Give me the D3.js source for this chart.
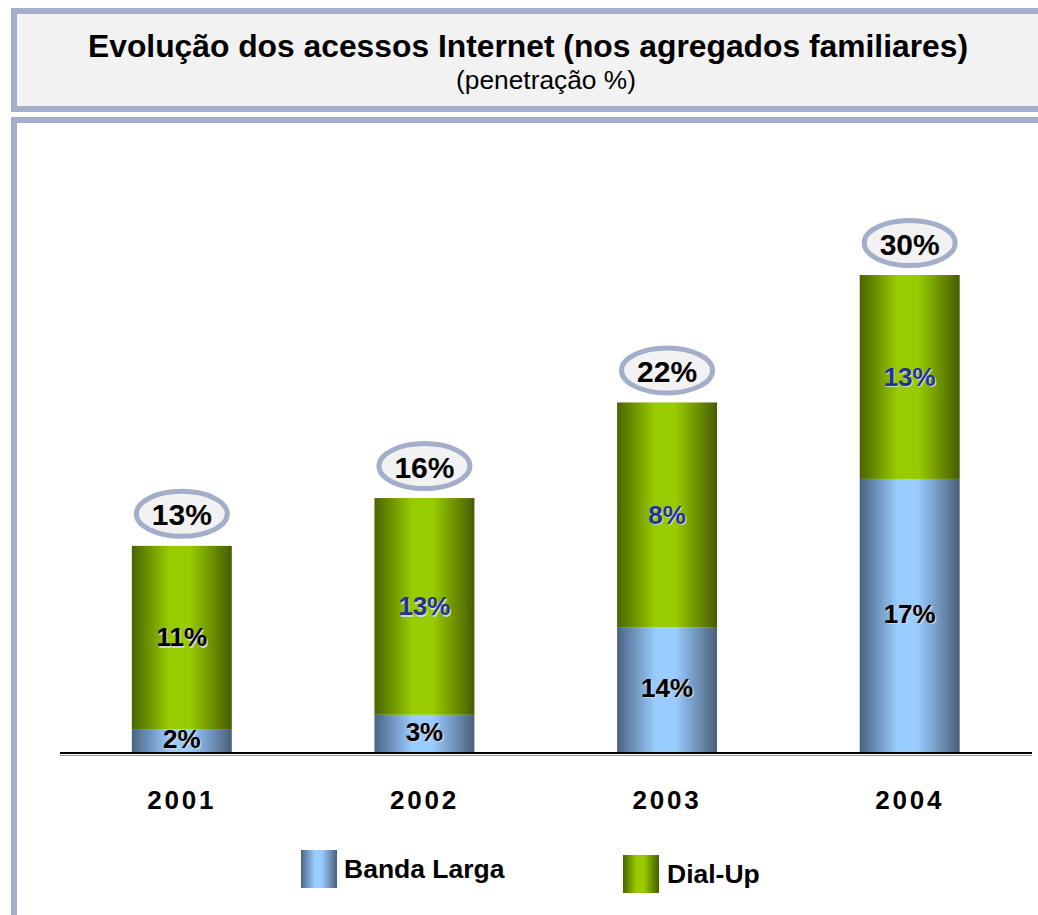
<!DOCTYPE html>
<html>
<head>
<meta charset="utf-8">
<script src="https://cdn.jsdelivr.net/npm/d3@7"></script>
<style>
  html, body { margin: 0; padding: 0; background: #ffffff; }
  svg { display: block; font-family: "Liberation Sans", Arial, sans-serif; }
</style>
</head>
<body>
<svg id="chart" width="1038" height="915"></svg>
<script>
// ---- data ----
const years = ["2001", "2002", "2003", "2004"];
const bandaLarga = [1.5, 2.4, 7.9, 17.2];
const dialUp = [11.5, 13.6, 14.1, 12.8];
const totalLabels = ["13%", "16%", "22%", "30%"];
const bandaLabels = ["2%", "3%", "14%", "17%"];
const dialLabels = ["11%", "13%", "8%", "13%"];
const seriesNames = ["Banda Larga", "Dial-Up"];
const titleText = "Evolução dos acessos Internet (nos agregados familiares)";
const subtitleText = "(penetração %)";

// ---- styles ----
const frameColor = "#a3aecb";
const dialLabelColor = ["#000000", "#1f3590", "#1f3590", "#1f3590"];

const svg = d3.select("#chart");
const defs = svg.append("defs");

function gradient(id, edgeL, mid, edgeR) {
  const g = defs.append("linearGradient").attr("id", id)
    .attr("x1", "0%").attr("x2", "100%").attr("y1", "0%").attr("y2", "0%");
  g.append("stop").attr("offset", "0%").attr("stop-color", edgeL);
  g.append("stop").attr("offset", "38%").attr("stop-color", mid);
  g.append("stop").attr("offset", "58%").attr("stop-color", mid);
  g.append("stop").attr("offset", "100%").attr("stop-color", edgeR);
}
gradient("gBlue", "#4a6383", "#99ccff", "#4a5f7a");
gradient("gGreen", "#4a6400", "#99cc00", "#465c00");

// ---- frames ----
svg.append("rect").attr("x", 14).attr("y", 11).attr("width", 1100).attr("height", 98)
  .attr("fill", "#f2f2f2").attr("stroke", frameColor).attr("stroke-width", 6);
svg.append("rect").attr("x", 14).attr("y", 120).attr("width", 1100).attr("height", 900)
  .attr("fill", "#ffffff").attr("stroke", frameColor).attr("stroke-width", 6);

svg.append("text").attr("x", 528).attr("y", 57).attr("text-anchor", "middle")
  .attr("font-size", 31.8).attr("font-weight", "bold").attr("fill", "#000")
  .text(titleText);
svg.append("text").attr("x", 546).attr("y", 89).attr("text-anchor", "middle")
  .attr("font-size", 26.3).attr("fill", "#000")
  .text(subtitleText);

// ---- scales ----
const x = d3.scaleBand().domain(years).range([60.5, 1031])
  .paddingInner(0.588).paddingOuter(0.294);
const y = d3.scaleLinear().domain([0, 30]).range([753, 275]);

const rows = years.map((yr, i) => ({
  year: yr, i,
  banda: bandaLarga[i], dial: dialUp[i],
  total: bandaLarga[i] + dialUp[i]
}));

// ---- bars ----
const g = svg.append("g");
g.selectAll("rect.banda").data(rows).join("rect").attr("class", "banda")
  .attr("x", d => x(d.year)).attr("width", x.bandwidth())
  .attr("y", d => y(d.banda)).attr("height", d => y(0) - y(d.banda))
  .attr("fill", "url(#gBlue)");
g.selectAll("rect.dial").data(rows).join("rect").attr("class", "dial")
  .attr("x", d => x(d.year)).attr("width", x.bandwidth())
  .attr("y", d => y(d.total)).attr("height", d => y(d.banda) - y(d.total))
  .attr("fill", "url(#gGreen)");

// ---- segment labels (with light shadow) ----
function segLabel(data, yFn, textFn, colorFn) {
  const lab = g.append("g");
  lab.selectAll("text.sh").data(data).join("text")
    .attr("x", d => x(d.year) + x.bandwidth() / 2 + 1.2).attr("y", d => yFn(d) + 1.2)
    .attr("text-anchor", "middle").attr("dominant-baseline", "central")
    .attr("font-size", 26).attr("font-weight", "bold").attr("fill", "#d4d4d4")
    .text(textFn);
  lab.selectAll("text.fg").data(data).join("text")
    .attr("x", d => x(d.year) + x.bandwidth() / 2).attr("y", d => yFn(d))
    .attr("text-anchor", "middle").attr("dominant-baseline", "central")
    .attr("font-size", 26).attr("font-weight", "bold").attr("fill", colorFn)
    .text(textFn);
}
segLabel(rows, d => (y(0) + y(d.banda)) / 2 - 2, d => bandaLabels[d.i], () => "#000");
segLabel(rows, d => (y(d.banda) + y(d.total)) / 2, d => dialLabels[d.i], d => dialLabelColor[d.i]);

// ---- total ellipses ----
const tot = g.selectAll("g.tot").data(rows).join("g").attr("class", "tot")
  .attr("transform", d => `translate(${x(d.year) + x.bandwidth() / 2},${y(d.total) - 32})`);
tot.append("ellipse").attr("rx", 45.5).attr("ry", 22.5)
  .attr("fill", "#f2f2f2").attr("stroke", frameColor).attr("stroke-width", 5);
tot.append("text").attr("text-anchor", "middle").attr("dominant-baseline", "central")
  .attr("y", 1).attr("font-size", 30).attr("font-weight", "bold").attr("fill", "#000")
  .text(d => totalLabels[d.i]);

// ---- baseline ----
svg.append("line").attr("x1", 60).attr("x2", 1032).attr("y1", 755.5).attr("y2", 755.5)
  .attr("stroke", "#9a9a9a").attr("stroke-width", 1);
svg.append("line").attr("x1", 60).attr("x2", 1032).attr("y1", y(0)).attr("y2", y(0))
  .attr("stroke", "#000").attr("stroke-width", 2);

// ---- x axis labels ----
const xAxis = d3.axisBottom(x).tickSize(0).tickPadding(0);
const ax = svg.append("g").attr("transform", `translate(0,${y(0)})`).call(xAxis);
ax.select(".domain").remove();
ax.selectAll("text").attr("y", 47).attr("dy", "0.35em")
  .attr("font-size", 26).attr("font-weight", "bold").attr("fill", "#000")
  .attr("font-family", "'Liberation Sans', Arial, sans-serif")
  .attr("letter-spacing", "2.8px").attr("dx", "0px");

// ---- legend ----
const legend = svg.append("g");
const legItems = [
  { name: seriesNames[0], fill: "url(#gBlue)", sx: 301, sy: 850, tx: 344, ty: 878 },
  { name: seriesNames[1], fill: "url(#gGreen)", sx: 623, sy: 855, tx: 667, ty: 883 }
];
legItems.forEach(it => {
  legend.append("rect").attr("x", it.sx).attr("y", it.sy).attr("width", 36).attr("height", 38)
    .attr("fill", it.fill);
  legend.append("text").attr("x", it.tx).attr("y", it.ty)
    .attr("font-size", 26.5).attr("font-weight", "bold").attr("fill", "#000").text(it.name);
});
</script>
</body>
</html>
